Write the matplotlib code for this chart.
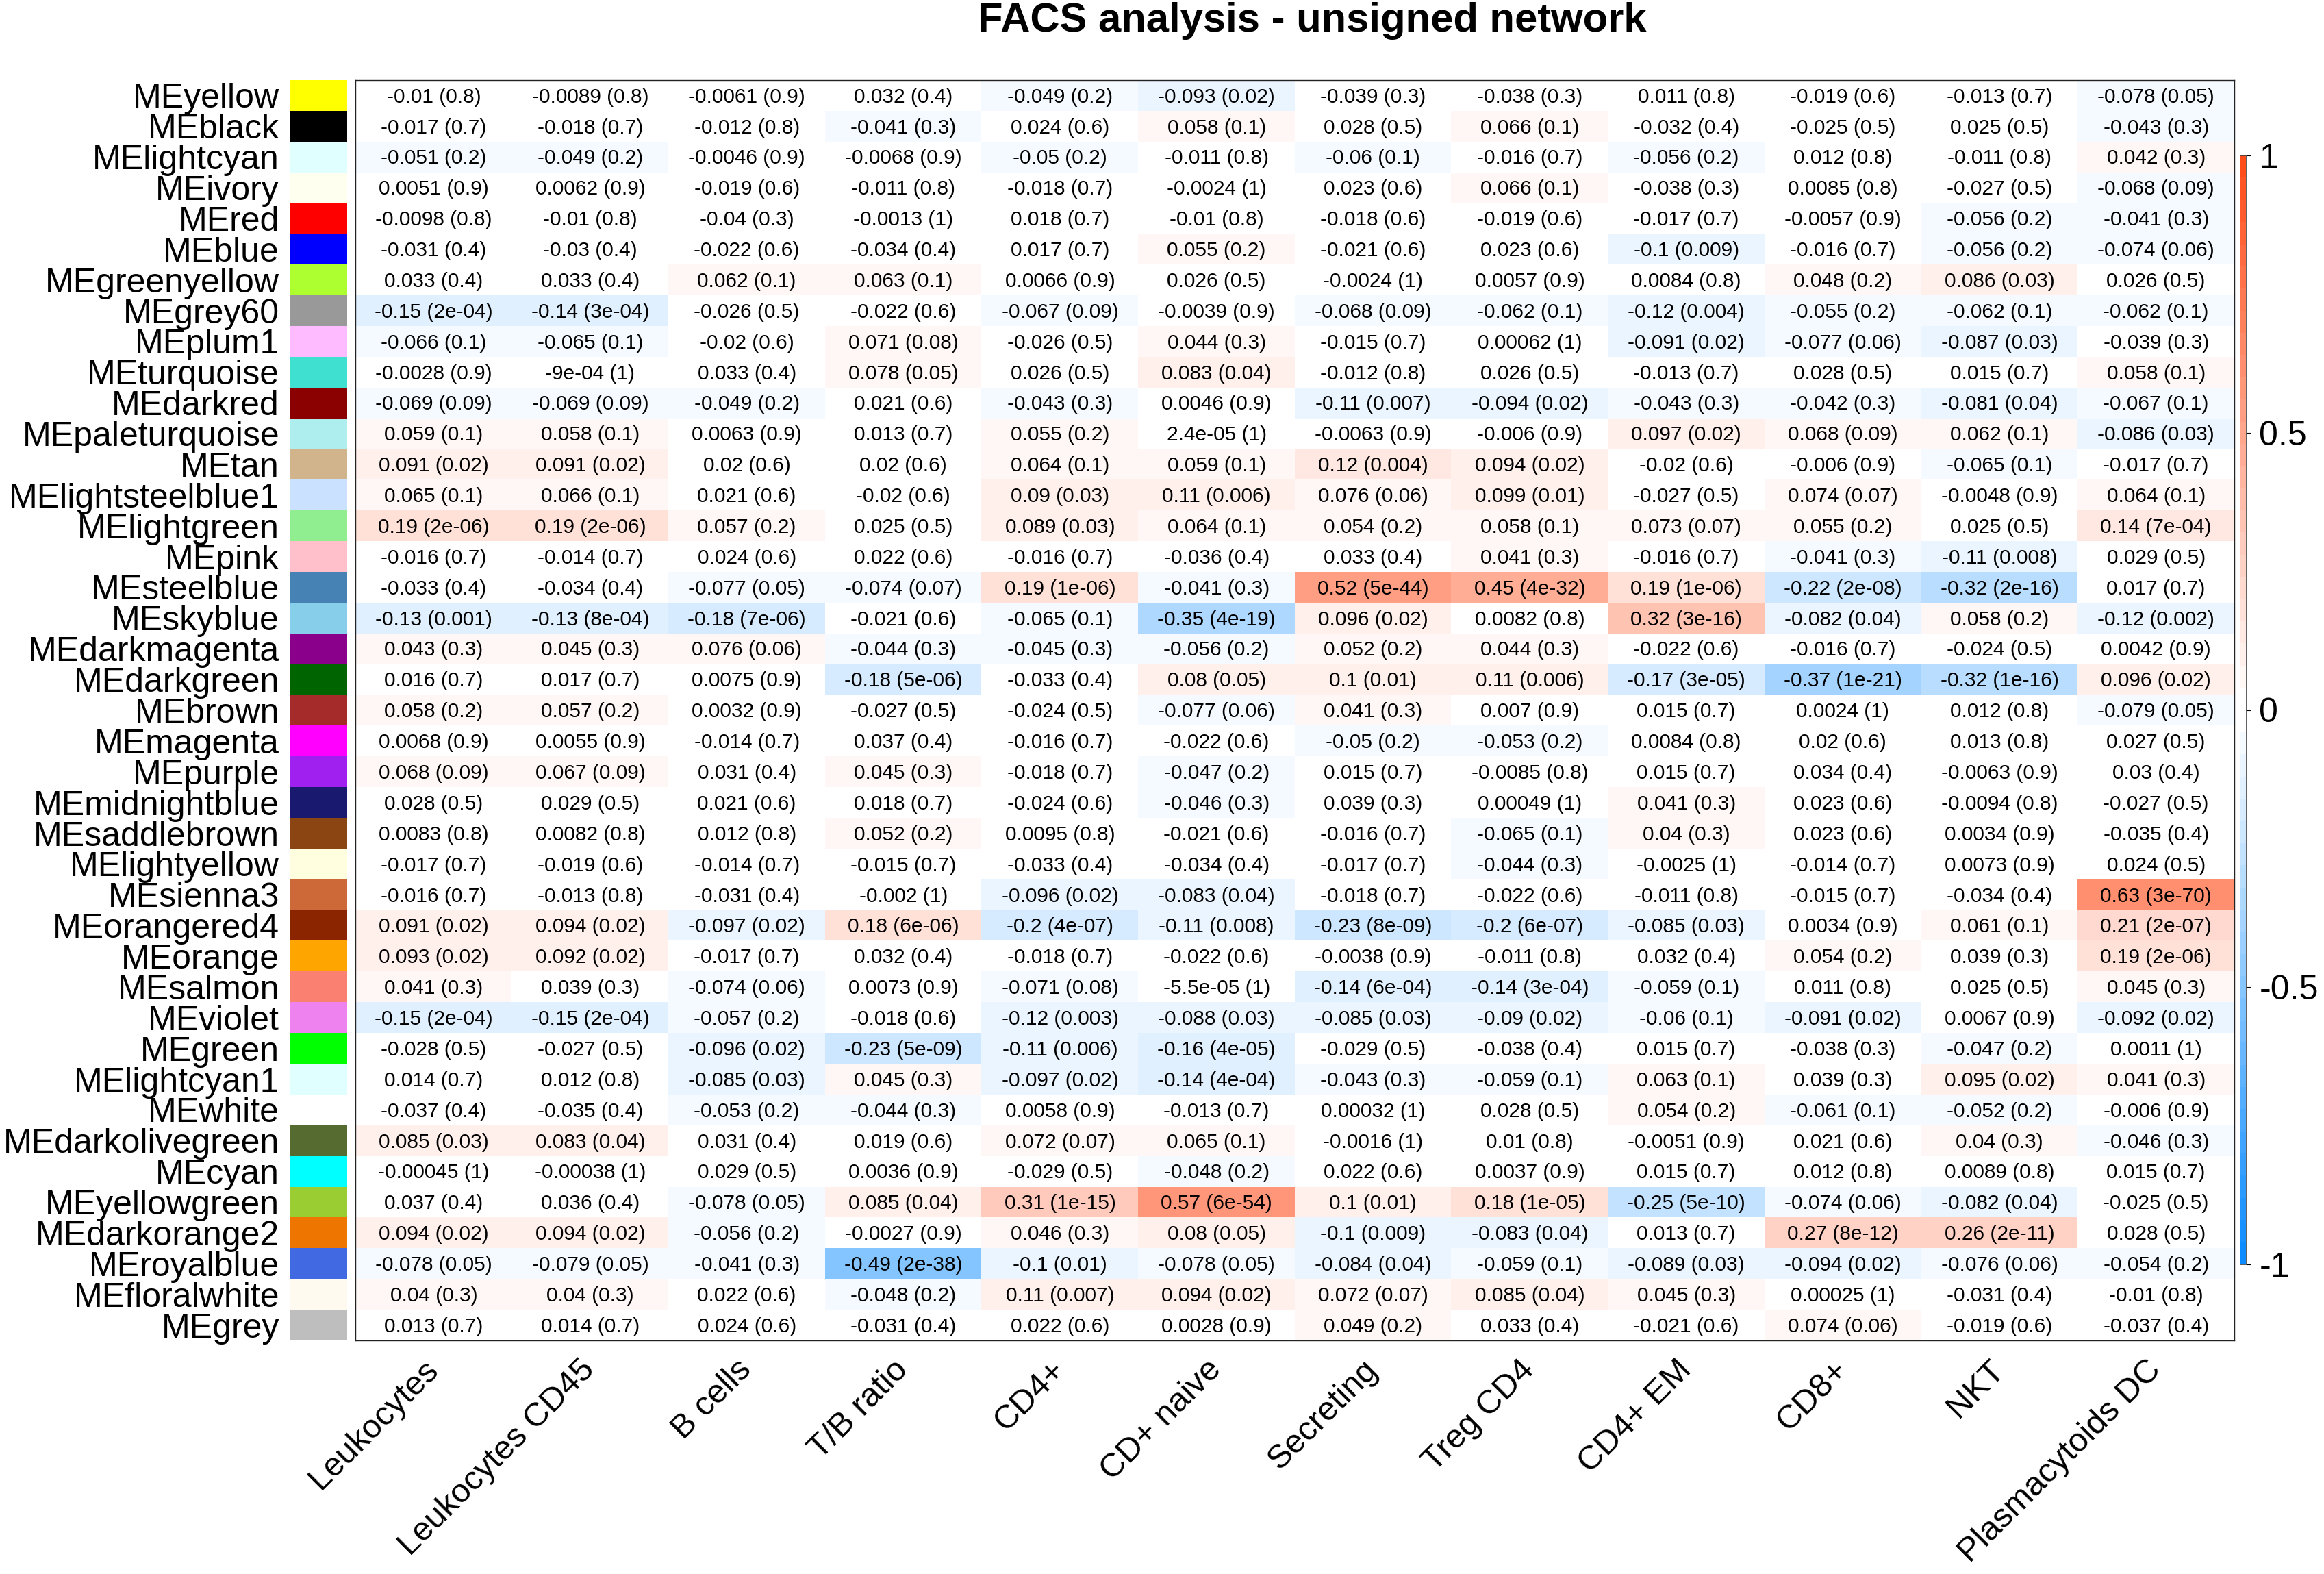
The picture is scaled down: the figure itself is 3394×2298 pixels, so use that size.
import matplotlib
matplotlib.use("Agg")
import matplotlib.pyplot as plt
import numpy as np
from matplotlib.colors import ListedColormap, to_rgb

plt.rcParams['font.family'] = ['Liberation Sans', 'DejaVu Sans']

# module eigengenes and their colours
modules = ['MEyellow', 'MEblack', 'MElightcyan', 'MEivory', 'MEred', 'MEblue',
           'MEgreenyellow', 'MEgrey60', 'MEplum1', 'MEturquoise', 'MEdarkred',
           'MEpaleturquoise', 'MEtan', 'MElightsteelblue1', 'MElightgreen', 'MEpink',
           'MEsteelblue', 'MEskyblue', 'MEdarkmagenta', 'MEdarkgreen', 'MEbrown',
           'MEmagenta', 'MEpurple', 'MEmidnightblue', 'MEsaddlebrown', 'MElightyellow',
           'MEsienna3', 'MEorangered4', 'MEorange', 'MEsalmon', 'MEviolet', 'MEgreen',
           'MElightcyan1', 'MEwhite', 'MEdarkolivegreen', 'MEcyan', 'MEyellowgreen',
           'MEdarkorange2', 'MEroyalblue', 'MEfloralwhite', 'MEgrey']
module_colors = ['#FFFF00', '#000000', '#E0FFFF', '#FFFFF0', '#FF0000', '#0000FF',
                 '#ADFF2F', '#999999', '#FFBBFF', '#40E0D0', '#8B0000',
                 '#AFEEEE', '#D2B48C', '#CAE1FF', '#90EE90', '#FFC0CB',
                 '#4682B4', '#87CEEB', '#8B008B', '#006400', '#A52A2A',
                 '#FF00FF', '#A020F0', '#191970', '#8B4513', '#FFFFE0',
                 '#CD6839', '#8B2500', '#FFA500', '#FA8072', '#EE82EE', '#00FF00',
                 '#E0FFFF', '#FFFFFF', '#556B2F', '#00FFFF', '#9ACD32',
                 '#EE7600', '#4169E1', '#FFFAF0', '#BEBEBE']

traits = ['Leukocytes', 'Leukocytes CD45', 'B cells', 'T/B ratio', 'CD4+', 'CD+ naive',
          'Secreting', 'Treg CD4', 'CD4+ EM', 'CD8+', 'NKT', 'Plasmacytoids DC']

# correlation of each module with each trait
cor = [
    [-0.01, -0.0089, -0.0061, 0.032, -0.049, -0.093, -0.039, -0.038, 0.011, -0.019, -0.013, -0.078],
    [-0.017, -0.018, -0.012, -0.041, 0.024, 0.058, 0.028, 0.066, -0.032, -0.025, 0.025, -0.043],
    [-0.051, -0.049, -0.0046, -0.0068, -0.05, -0.011, -0.06, -0.016, -0.056, 0.012, -0.011, 0.042],
    [0.0051, 0.0062, -0.019, -0.011, -0.018, -0.0024, 0.023, 0.066, -0.038, 0.0085, -0.027, -0.068],
    [-0.0098, -0.01, -0.04, -0.0013, 0.018, -0.01, -0.018, -0.019, -0.017, -0.0057, -0.056, -0.041],
    [-0.031, -0.03, -0.022, -0.034, 0.017, 0.055, -0.021, 0.023, -0.1, -0.016, -0.056, -0.074],
    [0.033, 0.033, 0.062, 0.063, 0.0066, 0.026, -0.0024, 0.0057, 0.0084, 0.048, 0.086, 0.026],
    [-0.15, -0.14, -0.026, -0.022, -0.067, -0.0039, -0.068, -0.062, -0.12, -0.055, -0.062, -0.062],
    [-0.066, -0.065, -0.02, 0.071, -0.026, 0.044, -0.015, 0.00062, -0.091, -0.077, -0.087, -0.039],
    [-0.0028, -9e-4, 0.033, 0.078, 0.026, 0.083, -0.012, 0.026, -0.013, 0.028, 0.015, 0.058],
    [-0.069, -0.069, -0.049, 0.021, -0.043, 0.0046, -0.11, -0.094, -0.043, -0.042, -0.081, -0.067],
    [0.059, 0.058, 0.0063, 0.013, 0.055, 2.4e-5, -0.0063, -0.006, 0.097, 0.068, 0.062, -0.086],
    [0.091, 0.091, 0.02, 0.02, 0.064, 0.059, 0.12, 0.094, -0.02, -0.006, -0.065, -0.017],
    [0.065, 0.066, 0.021, -0.02, 0.09, 0.11, 0.076, 0.099, -0.027, 0.074, -0.0048, 0.064],
    [0.19, 0.19, 0.057, 0.025, 0.089, 0.064, 0.054, 0.058, 0.073, 0.055, 0.025, 0.14],
    [-0.016, -0.014, 0.024, 0.022, -0.016, -0.036, 0.033, 0.041, -0.016, -0.041, -0.11, 0.029],
    [-0.033, -0.034, -0.077, -0.074, 0.19, -0.041, 0.52, 0.45, 0.19, -0.22, -0.32, 0.017],
    [-0.13, -0.13, -0.18, -0.021, -0.065, -0.35, 0.096, 0.0082, 0.32, -0.082, 0.058, -0.12],
    [0.043, 0.045, 0.076, -0.044, -0.045, -0.056, 0.052, 0.044, -0.022, -0.016, -0.024, 0.0042],
    [0.016, 0.017, 0.0075, -0.18, -0.033, 0.08, 0.1, 0.11, -0.17, -0.37, -0.32, 0.096],
    [0.058, 0.057, 0.0032, -0.027, -0.024, -0.077, 0.041, 0.007, 0.015, 0.0024, 0.012, -0.079],
    [0.0068, 0.0055, -0.014, 0.037, -0.016, -0.022, -0.05, -0.053, 0.0084, 0.02, 0.013, 0.027],
    [0.068, 0.067, 0.031, 0.045, -0.018, -0.047, 0.015, -0.0085, 0.015, 0.034, -0.0063, 0.03],
    [0.028, 0.029, 0.021, 0.018, -0.024, -0.046, 0.039, 0.00049, 0.041, 0.023, -0.0094, -0.027],
    [0.0083, 0.0082, 0.012, 0.052, 0.0095, -0.021, -0.016, -0.065, 0.04, 0.023, 0.0034, -0.035],
    [-0.017, -0.019, -0.014, -0.015, -0.033, -0.034, -0.017, -0.044, -0.0025, -0.014, 0.0073, 0.024],
    [-0.016, -0.013, -0.031, -0.002, -0.096, -0.083, -0.018, -0.022, -0.011, -0.015, -0.034, 0.63],
    [0.091, 0.094, -0.097, 0.18, -0.2, -0.11, -0.23, -0.2, -0.085, 0.0034, 0.061, 0.21],
    [0.093, 0.092, -0.017, 0.032, -0.018, -0.022, -0.0038, -0.011, 0.032, 0.054, 0.039, 0.19],
    [0.041, 0.039, -0.074, 0.0073, -0.071, -5.5e-5, -0.14, -0.14, -0.059, 0.011, 0.025, 0.045],
    [-0.15, -0.15, -0.057, -0.018, -0.12, -0.088, -0.085, -0.09, -0.06, -0.091, 0.0067, -0.092],
    [-0.028, -0.027, -0.096, -0.23, -0.11, -0.16, -0.029, -0.038, 0.015, -0.038, -0.047, 0.0011],
    [0.014, 0.012, -0.085, 0.045, -0.097, -0.14, -0.043, -0.059, 0.063, 0.039, 0.095, 0.041],
    [-0.037, -0.035, -0.053, -0.044, 0.0058, -0.013, 0.00032, 0.028, 0.054, -0.061, -0.052, -0.006],
    [0.085, 0.083, 0.031, 0.019, 0.072, 0.065, -0.0016, 0.01, -0.0051, 0.021, 0.04, -0.046],
    [-0.00045, -0.00038, 0.029, 0.0036, -0.029, -0.048, 0.022, 0.0037, 0.015, 0.012, 0.0089, 0.015],
    [0.037, 0.036, -0.078, 0.085, 0.31, 0.57, 0.1, 0.18, -0.25, -0.074, -0.082, -0.025],
    [0.094, 0.094, -0.056, -0.0027, 0.046, 0.08, -0.1, -0.083, 0.013, 0.27, 0.26, 0.028],
    [-0.078, -0.079, -0.041, -0.49, -0.1, -0.078, -0.084, -0.059, -0.089, -0.094, -0.076, -0.054],
    [0.04, 0.04, 0.022, -0.048, 0.11, 0.094, 0.072, 0.085, 0.045, 0.00025, -0.031, -0.01],
    [0.013, 0.014, 0.024, -0.031, 0.022, 0.0028, 0.049, 0.033, -0.021, 0.074, -0.019, -0.037],
]

# p-values shown in brackets
pval = [
    [0.8, 0.8, 0.9, 0.4, 0.2, 0.02, 0.3, 0.3, 0.8, 0.6, 0.7, 0.05],
    [0.7, 0.7, 0.8, 0.3, 0.6, 0.1, 0.5, 0.1, 0.4, 0.5, 0.5, 0.3],
    [0.2, 0.2, 0.9, 0.9, 0.2, 0.8, 0.1, 0.7, 0.2, 0.8, 0.8, 0.3],
    [0.9, 0.9, 0.6, 0.8, 0.7, 1, 0.6, 0.1, 0.3, 0.8, 0.5, 0.09],
    [0.8, 0.8, 0.3, 1, 0.7, 0.8, 0.6, 0.6, 0.7, 0.9, 0.2, 0.3],
    [0.4, 0.4, 0.6, 0.4, 0.7, 0.2, 0.6, 0.6, 0.009, 0.7, 0.2, 0.06],
    [0.4, 0.4, 0.1, 0.1, 0.9, 0.5, 1, 0.9, 0.8, 0.2, 0.03, 0.5],
    [2e-4, 3e-4, 0.5, 0.6, 0.09, 0.9, 0.09, 0.1, 0.004, 0.2, 0.1, 0.1],
    [0.1, 0.1, 0.6, 0.08, 0.5, 0.3, 0.7, 1, 0.02, 0.06, 0.03, 0.3],
    [0.9, 1, 0.4, 0.05, 0.5, 0.04, 0.8, 0.5, 0.7, 0.5, 0.7, 0.1],
    [0.09, 0.09, 0.2, 0.6, 0.3, 0.9, 0.007, 0.02, 0.3, 0.3, 0.04, 0.1],
    [0.1, 0.1, 0.9, 0.7, 0.2, 1, 0.9, 0.9, 0.02, 0.09, 0.1, 0.03],
    [0.02, 0.02, 0.6, 0.6, 0.1, 0.1, 0.004, 0.02, 0.6, 0.9, 0.1, 0.7],
    [0.1, 0.1, 0.6, 0.6, 0.03, 0.006, 0.06, 0.01, 0.5, 0.07, 0.9, 0.1],
    [2e-6, 2e-6, 0.2, 0.5, 0.03, 0.1, 0.2, 0.1, 0.07, 0.2, 0.5, 7e-4],
    [0.7, 0.7, 0.6, 0.6, 0.7, 0.4, 0.4, 0.3, 0.7, 0.3, 0.008, 0.5],
    [0.4, 0.4, 0.05, 0.07, 1e-6, 0.3, 5e-44, 4e-32, 1e-6, 2e-8, 2e-16, 0.7],
    [0.001, 8e-4, 7e-6, 0.6, 0.1, 4e-19, 0.02, 0.8, 3e-16, 0.04, 0.2, 0.002],
    [0.3, 0.3, 0.06, 0.3, 0.3, 0.2, 0.2, 0.3, 0.6, 0.7, 0.5, 0.9],
    [0.7, 0.7, 0.9, 5e-6, 0.4, 0.05, 0.01, 0.006, 3e-5, 1e-21, 1e-16, 0.02],
    [0.2, 0.2, 0.9, 0.5, 0.5, 0.06, 0.3, 0.9, 0.7, 1, 0.8, 0.05],
    [0.9, 0.9, 0.7, 0.4, 0.7, 0.6, 0.2, 0.2, 0.8, 0.6, 0.8, 0.5],
    [0.09, 0.09, 0.4, 0.3, 0.7, 0.2, 0.7, 0.8, 0.7, 0.4, 0.9, 0.4],
    [0.5, 0.5, 0.6, 0.7, 0.6, 0.3, 0.3, 1, 0.3, 0.6, 0.8, 0.5],
    [0.8, 0.8, 0.8, 0.2, 0.8, 0.6, 0.7, 0.1, 0.3, 0.6, 0.9, 0.4],
    [0.7, 0.6, 0.7, 0.7, 0.4, 0.4, 0.7, 0.3, 1, 0.7, 0.9, 0.5],
    [0.7, 0.8, 0.4, 1, 0.02, 0.04, 0.7, 0.6, 0.8, 0.7, 0.4, 3e-70],
    [0.02, 0.02, 0.02, 6e-6, 4e-7, 0.008, 8e-9, 6e-7, 0.03, 0.9, 0.1, 2e-7],
    [0.02, 0.02, 0.7, 0.4, 0.7, 0.6, 0.9, 0.8, 0.4, 0.2, 0.3, 2e-6],
    [0.3, 0.3, 0.06, 0.9, 0.08, 1, 6e-4, 3e-4, 0.1, 0.8, 0.5, 0.3],
    [2e-4, 2e-4, 0.2, 0.6, 0.003, 0.03, 0.03, 0.02, 0.1, 0.02, 0.9, 0.02],
    [0.5, 0.5, 0.02, 5e-9, 0.006, 4e-5, 0.5, 0.4, 0.7, 0.3, 0.2, 1],
    [0.7, 0.8, 0.03, 0.3, 0.02, 4e-4, 0.3, 0.1, 0.1, 0.3, 0.02, 0.3],
    [0.4, 0.4, 0.2, 0.3, 0.9, 0.7, 1, 0.5, 0.2, 0.1, 0.2, 0.9],
    [0.03, 0.04, 0.4, 0.6, 0.07, 0.1, 1, 0.8, 0.9, 0.6, 0.3, 0.3],
    [1, 1, 0.5, 0.9, 0.5, 0.2, 0.6, 0.9, 0.7, 0.8, 0.8, 0.7],
    [0.4, 0.4, 0.05, 0.04, 1e-15, 6e-54, 0.01, 1e-5, 5e-10, 0.06, 0.04, 0.5],
    [0.02, 0.02, 0.2, 0.9, 0.3, 0.05, 0.009, 0.04, 0.7, 8e-12, 2e-11, 0.5],
    [0.05, 0.05, 0.3, 2e-38, 0.01, 0.05, 0.04, 0.1, 0.03, 0.02, 0.06, 0.2],
    [0.3, 0.3, 0.6, 0.2, 0.007, 0.02, 0.07, 0.04, 0.3, 1, 0.4, 0.8],
    [0.7, 0.7, 0.6, 0.4, 0.6, 0.9, 0.2, 0.4, 0.6, 0.06, 0.6, 0.4],
]


def rfmt(v):
    # mimic R's choice between fixed and scientific notation
    v = float(v)
    fixed = np.format_float_positional(v, trim='-')
    mant, exp = f'{v:.1e}'.split('e')
    if mant.endswith('.0'):
        mant = mant[:-2]
    sci = mant + 'e' + exp
    return fixed if len(fixed) <= len(sci) else sci


W, H = 3394, 2298
fig = plt.figure(figsize=(W / 100, H / 100), dpi=100)

# WGCNA blueWhiteRed(50): 25 steps blue->white, 25 steps white->red
blue_end = np.array([0.05, 0.55, 1.0])
red_end = np.array([1.0, 0.3, 0.1])
frac = np.linspace(0, 1, 25)
ramp = [blue_end + (1 - blue_end) * f for f in frac] + \
       [red_end + (1 - red_end) * f for f in frac[::-1]]
cmap = ListedColormap(ramp)

nr, nc = len(modules), len(traits)
ax = fig.add_axes([519 / W, 1 - 1957 / H, (3263 - 519) / W, (1957 - 117) / H])
im = ax.imshow(np.array(cor), cmap=cmap, vmin=-1, vmax=1, aspect='auto',
               interpolation='nearest', extent=(0, nc, nr, 0))
ax.set_xlim(0, nc)
ax.set_ylim(nr, 0)
ax.set_xticks([])
ax.set_yticks([])
for s in ax.spines.values():
    s.set_linewidth(1.0)
    s.set_color('#222222')

for i in range(nr):
    for j in range(nc):
        ax.text(j + 0.5, i + 0.55, f'{rfmt(cor[i][j])} ({rfmt(pval[i][j])})',
                ha='center', va='center', fontsize=21.5)

for j, t in enumerate(traits):
    ax.text(j + 0.5, nr + 0.8, t, rotation=45, rotation_mode='anchor',
            ha='right', va='center', fontsize=35, clip_on=False)

# module colour strip
sax = fig.add_axes([424 / W, 1 - 1957 / H, (507 - 424) / W, (1957 - 117) / H])
sax.imshow(np.array([[to_rgb(c)] for c in module_colors]), aspect='auto',
           interpolation='nearest', extent=(0, 1, nr, 0))
sax.set_xlim(0, 1)
sax.set_ylim(nr, 0)
sax.set_xticks([])
sax.set_yticks(np.arange(nr) + 0.5)
sax.set_yticklabels(modules, fontsize=36)
sax.tick_params(axis='y', length=0, pad=11.5)
for s in sax.spines.values():
    s.set_visible(False)

# colour bar
cax = fig.add_axes([3271 / W, 1 - 1846 / H, 9 / W, (1846 - 227) / H])
cb = fig.colorbar(im, cax=cax, ticks=[-1, -0.5, 0, 0.5, 1])
cb.ax.set_yticklabels(['-1', '-0.5', '0', '0.5', '1'])
cb.ax.tick_params(labelsize=36, length=5, width=0.8, pad=9)
cb.outline.set_linewidth(0.6)
cb.outline.set_edgecolor('#444444')

fig.text(1916 / W, 1 - 30 / H, 'FACS analysis - unsigned network',
         ha='center', va='center', fontsize=43, fontweight='bold')

fig.savefig('out.png', dpi=100)
